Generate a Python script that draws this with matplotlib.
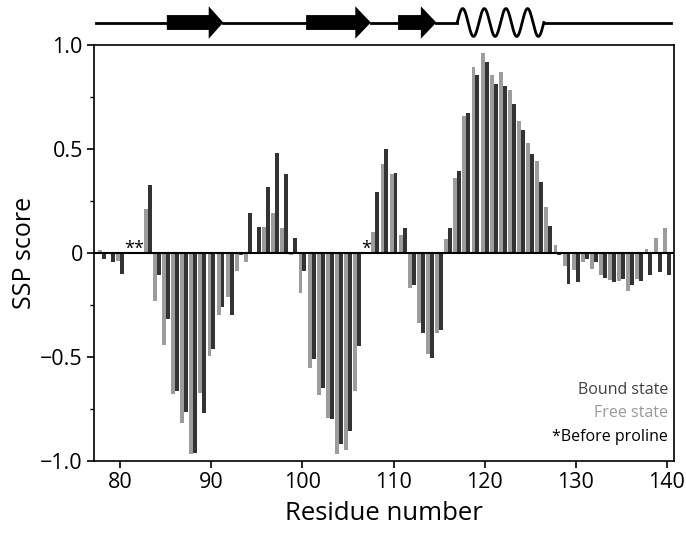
import numpy as np
import matplotlib
matplotlib.use('Agg')
import matplotlib.pyplot as plt

plt.rcParams['font.family'] = ['Open Sans', 'DejaVu Sans']

# SSP scores per residue (nan = no value)
residues = np.arange(78, 141)
free_state = [0.015, np.nan, -0.037, np.nan, np.nan, 0.21, -0.23, -0.442, -0.678, -0.818,
              -0.967, -0.673, -0.493, -0.297, -0.214, -0.085, -0.045, np.nan, 0.127, 0.194,
              0.122, -0.011, -0.194, -0.551, -0.681, -0.792, -0.965, -0.946, -0.662, np.nan,
              0.103, 0.43, 0.378, 0.088, -0.17, -0.339, -0.484, -0.387, 0.069, 0.36,
              0.657, 0.893, 0.961, 0.856, 0.869, 0.782, 0.633, 0.527, 0.44, 0.223,
              0.04, -0.064, -0.082, -0.043, -0.077, -0.106, -0.13, -0.135, -0.183, -0.125,
              0.019, 0.074, 0.12]
bound_state = [-0.03, -0.043, -0.1, np.nan, np.nan, 0.326, -0.104, -0.316, -0.662, -0.763,
               -0.962, -0.77, -0.461, -0.259, -0.3, -0.008, 0.19, 0.127, 0.315, 0.479,
               0.382, 0.074, -0.088, -0.512, -0.647, -0.797, -0.917, -0.856, -0.445, np.nan,
               0.291, 0.498, 0.387, 0.122, -0.156, -0.387, -0.503, -0.368, 0.122, 0.392,
               0.671, 0.856, 0.917, 0.813, 0.802, 0.715, 0.59, 0.474, 0.339, 0.132,
               -0.01, -0.149, -0.14, -0.029, -0.043, -0.12, -0.14, -0.125, -0.154, -0.135,
               -0.106, -0.092, -0.106]
before_proline = [81, 82, 107]

# secondary structure (residue ranges)
strands = [(85.1, 89.7, 91.3), (100.4, 105.8, 107.5), (110.5, 113.0, 114.7)]
helix = (117.0, 126.5)
ss_range = (77.3, 140.5)

dark = '#333333'
light = '#9c9c9c'

fig = plt.figure(figsize=(6.86, 5.36), dpi=100)
ax = fig.add_axes([0.137, 0.14, 0.8455, 0.776])

w = 0.43
ax.bar(residues - w / 2, free_state, width=w, color=light)
ax.bar(residues + w / 2, bound_state, width=w, color=dark)
ax.axhline(0, color='black', lw=1.5)

for r in before_proline:
    ax.text(r, -0.025, '*', ha='center', va='bottom', fontsize=13, color='black')

ax.set_xlim(77.1, 140.8)
ax.set_ylim(-1, 1)
ax.set_xticks([80, 90, 100, 110, 120, 130, 140])
ax.set_yticks([-1, -0.5, 0, 0.5, 1])
ax.set_yticklabels(['\u22121.0', '\u22120.5', '0', '0.5', '1.0'])
ax.set_yticks(np.arange(-1, 1.01, 0.25), minor=True)
ax.tick_params(axis='both', which='major', labelsize=15.5, length=5, width=1.2, pad=3)
ax.tick_params(axis='y', which='minor', length=3, width=1)
for s in ax.spines.values():
    s.set_linewidth(1.2)
ax.set_xlabel('Residue number', fontsize=18.5, labelpad=6)
ax.set_ylabel('SSP score', fontsize=18, labelpad=2)

ax.text(0.99, 0.171, 'Bound state', transform=ax.transAxes, ha='right', va='center',
        fontsize=11.5, color='#404040')
ax.text(0.99, 0.115, 'Free state', transform=ax.transAxes, ha='right', va='center',
        fontsize=11.5, color='#999999')
ax.text(0.99, 0.058, '*Before proline', transform=ax.transAxes, ha='right', va='center',
        fontsize=11.5, color='black')

# secondary structure cartoon above the plot
top = fig.add_axes([0.137, 0.916, 0.8455, 0.084])
top.set_xlim(ax.get_xlim())
top.set_ylim(-1, 1)
top.axis('off')

pieces = [ss_range[0]]
for s0, s1, tip in strands:
    pieces += [s0, tip]
pieces += [helix[0], helix[1], ss_range[1]]
segs = [(pieces[0], pieces[1]), (pieces[2], pieces[3]), (pieces[4], pieces[5]),
        (pieces[6], pieces[7]), (pieces[8], pieces[9])]
for a, b in segs:
    top.plot([a, b], [0, 0], color='black', lw=2)

for s0, s1, tip in strands:
    top.fill([s0, s1, s1, tip, s1, s1, s0], [0.33, 0.33, 0.72, 0, -0.72, -0.33, -0.33],
             color='black', lw=0)

hx = np.linspace(helix[0], helix[1], 300)
hy = 0.62 * np.sin(2 * np.pi * 4 * (hx - helix[0]) / (helix[1] - helix[0]))
top.plot(hx, hy, color='black', lw=2)

fig.savefig('out.png', dpi=100)
